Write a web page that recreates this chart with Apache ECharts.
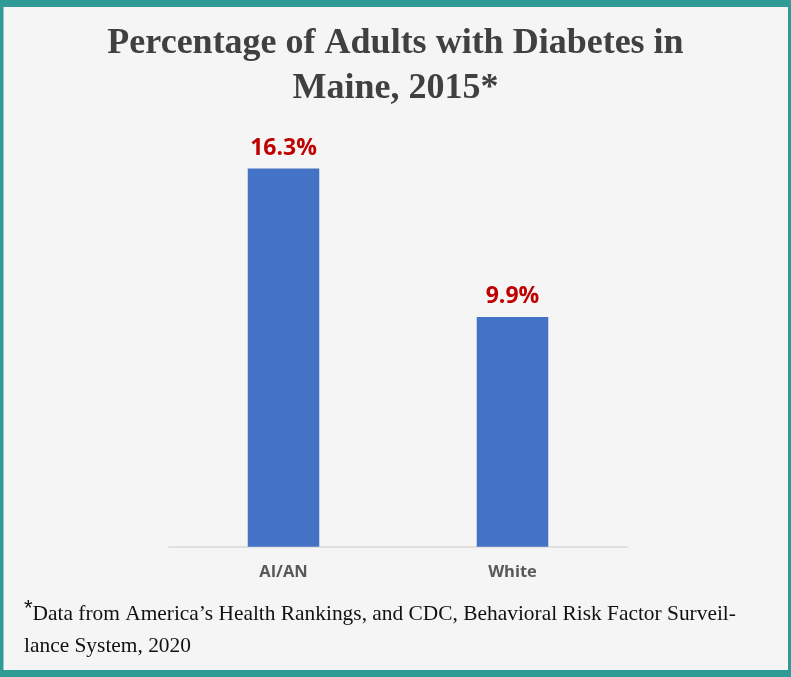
<!DOCTYPE html>
<html>
<head>
<meta charset="utf-8">
<script src="https://cdn.jsdelivr.net/npm/echarts@6/dist/echarts.min.js"></script>
<style>
html,body{margin:0;padding:0;background:#F5F5F5;}
#chart{width:791px;height:677px;}
</style>
</head>
<body>
<div id="chart"></div>
<script>
const categories = ['AI/AN', 'White'];
const values = [16.3, 9.9];
const titleLines = ['Percentage of Adults with Diabetes in', 'Maine, 2015*'];
const footnoteLines = ['Data from America\u2019s Health Rankings, and CDC, Behavioral Risk Factor Surveil-', 'lance System, 2020'];

const chart = echarts.init(document.getElementById('chart'), null, {renderer: 'canvas'});
const option = {
  backgroundColor: '#F5F5F5',
  animation: false,
  title: {
    text: titleLines.join('\n'),
    left: 'center',
    top: 16,
    textStyle: {
      fontFamily: '"Liberation Serif", "Times New Roman", serif',
      fontWeight: 'bold',
      fontSize: 36,
      lineHeight: 45,
      color: '#404040'
    }
  },
  graphic: [
    { type: 'rect', z: 100, silent: true, shape: {x: 0, y: 0, width: 791, height: 7}, style: {fill: '#2E9B96'} },
    { type: 'rect', z: 100, silent: true, shape: {x: 0, y: 670, width: 791, height: 7}, style: {fill: '#2E9B96'} },
    { type: 'rect', z: 100, silent: true, shape: {x: 0, y: 0, width: 3.5, height: 677}, style: {fill: '#2E9B96'} },
    { type: 'rect', z: 100, silent: true, shape: {x: 788, y: 0, width: 3, height: 677}, style: {fill: '#2E9B96'} },
    {
      type: 'text',
      left: 24,
      top: 598,
      style: {
        text: '{ast|*}{t|' + footnoteLines[0] + '}\n{t|' + footnoteLines[1] + '}',
        rich: {
          ast: {fontFamily: '"Liberation Sans", Arial, sans-serif', fontSize: 22, fill: '#111', lineHeight: 32, verticalAlign: 'top'},
          t: {fontFamily: '"Liberation Serif", "Times New Roman", serif', fontSize: 21.4, fill: '#111', lineHeight: 32}
        }
      }
    }
  ],
  grid: {left: 169, right: 164, top: 82.7, bottom: 130.3},
  xAxis: {
    type: 'category',
    data: categories,
    axisLine: {show: true, lineStyle: {color: '#D9D9D9', width: 1.5}},
    axisTick: {show: false},
    axisLabel: {
      margin: 17,
      fontFamily: '"Open Sans", "Noto Sans", sans-serif',
      fontWeight: 'bold',
      fontSize: 16.5,
      color: '#595959'
    }
  },
  yAxis: {
    type: 'value',
    min: 0,
    max: 20,
    show: false,
    splitLine: {show: false}
  },
  series: [{
    type: 'bar',
    data: values,
    barWidth: 71.5,
    itemStyle: {color: '#4472C4'},
    label: {
      show: true,
      position: 'top',
      distance: 9,
      formatter: p => p.value.toFixed(1) + '%',
      fontFamily: '"Open Sans", "Noto Sans", sans-serif',
      fontWeight: 'bold',
      fontSize: 23,
      color: '#C00000'
    }
  }]
};
chart.setOption(option);
</script>
</body>
</html>
